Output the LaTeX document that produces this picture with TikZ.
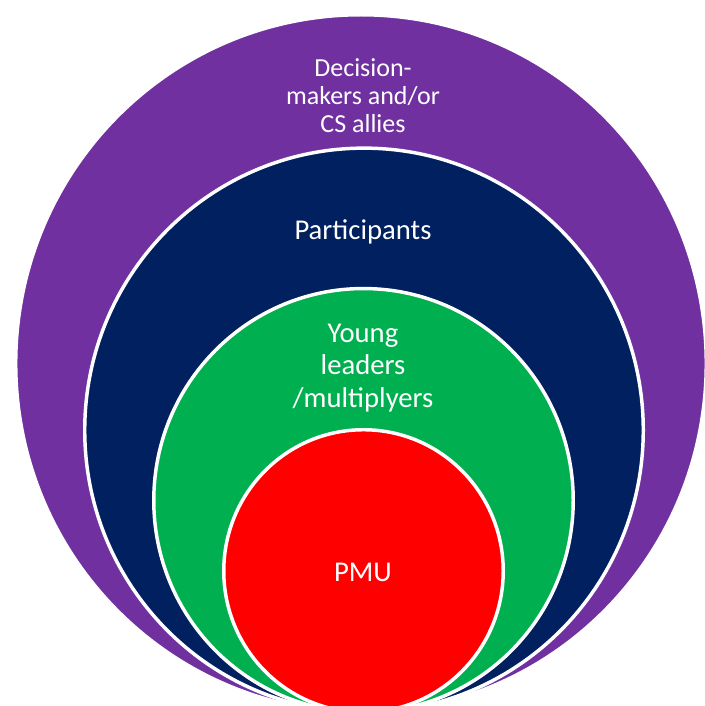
\documentclass[tikz,border=0pt]{standalone}
\usepackage{fontspec}
\setmainfont{Carlito}
\usetikzlibrary{shapes.geometric}
\definecolor{ringPurple}{RGB}{112,48,160}
\definecolor{ringNavy}{RGB}{0,32,96}
\definecolor{ringGreen}{RGB}{0,176,80}
\definecolor{ringRed}{RGB}{255,0,0}
\tikzset{every picture/.style={line width=0.75pt}}
\tikzset{
  ring/.style={ellipse, draw=white, line width=2.6pt, inner sep=0pt},
  ringtext/.style={text=white, align=center, inner sep=0.75pt},
}

\begin{document}
\begin{tikzpicture}[x=0.75pt,y=0.75pt,yscale=-1,xscale=1]
\useasboundingbox (0,0) rectangle (704,706);

%Shape: Ellipse (outer ring)
\node [ring, fill=ringPurple, minimum width=517.9pt, minimum height=523.1pt] (decisionRing) at (361,363.5) {};
%Shape: Ellipse
\node [ring, fill=ringNavy, minimum width=418.9pt, minimum height=423.1pt] (participantRing) at (364,430.2) {};
%Shape: Ellipse
\node [ring, fill=ringGreen, minimum width=314.6pt, minimum height=317.8pt] (youngRing) at (363.5,500.4) {};
%Shape: Ellipse (core)
\node [ring, fill=ringRed, minimum width=209.6pt, minimum height=211.9pt] (pmuRing) at (363.5,571) {};

% Text Node
\node [ringtext, font=\fontsize{19.5}{21}\selectfont] (decisionText) at (363,96) {Decision-\\makers and/or\\CS allies};
% Text Node
\node [ringtext, font=\fontsize{21.5}{22}\selectfont] (participantText) at (363,232) {Participants};
% Text Node
\node [ringtext, font=\fontsize{21.5}{24.4}\selectfont] (youngText) at (363,368) {Young\\leaders\\/multiplyers};
% Text Node
\node [ringtext, font=\fontsize{21.5}{22}\selectfont] (pmuText) at (363,572) {PMU};

\end{tikzpicture}
\end{document}
